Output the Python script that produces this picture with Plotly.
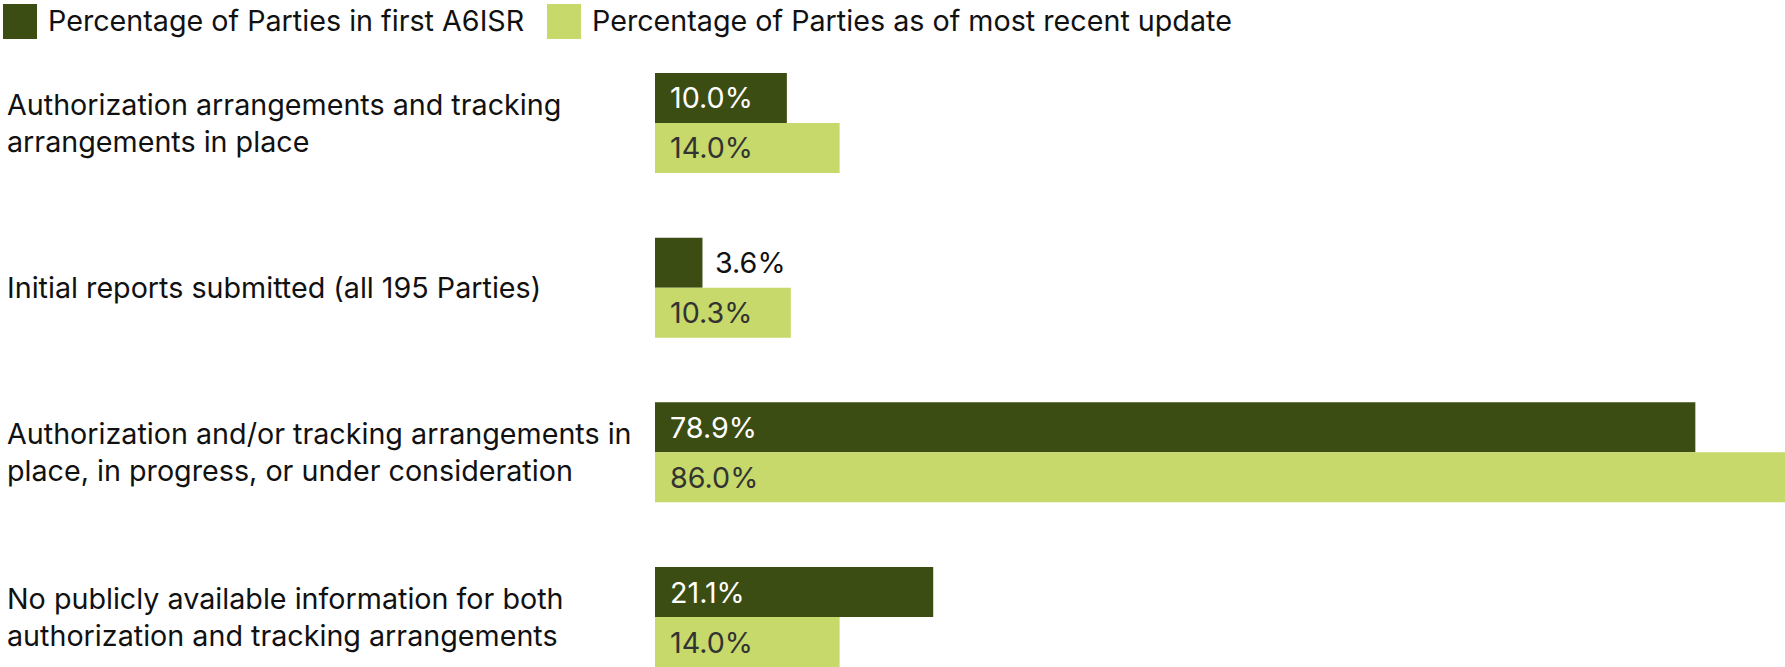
import plotly.graph_objects as go

categories = [
    "Authorization arrangements and tracking<br>arrangements in place",
    "Initial reports submitted (all 195 Parties)",
    "Authorization and/or tracking arrangements in<br>place, in progress, or under consideration",
    "No publicly available information for both<br>authorization and tracking arrangements",
]
series_names = ["Percentage of Parties in first A6ISR", "Percentage of Parties as of most recent update"]
first_a6isr = [10.0, 3.6, 78.9, 21.1]
recent_update = [14.0, 10.3, 86.0, 14.0]

DARK = "#3b4d13"
LIGHT = "#c6d96a"
FONT = "Inter"
FS = 28.7

W, H = 1785, 667
L, T = 655, 73
pos = list(range(len(categories)))
half = 0.1517  # half offset of grouped bars in axis units

fig = go.Figure()
fig.add_trace(go.Bar(y=pos, x=first_a6isr, orientation="h", name=series_names[0],
                     marker=dict(color=DARK, line=dict(width=0)), showlegend=False))
fig.add_trace(go.Bar(y=pos, x=recent_update, orientation="h", name=series_names[1],
                     marker=dict(color=LIGHT, line=dict(width=0)), showlegend=False))

ann = []
for i, cat in enumerate(categories):
    ann.append(dict(x=-L / (W - L), xref="paper", y=i, yref="y", text=cat, showarrow=False,
                    xanchor="left", yanchor="middle", align="left", xshift=5,
                    font=dict(family=FONT, size=FS, color="#111111")))
for vals, off, col_in in [(first_a6isr, -half, "#ffffff"), (recent_update, half, "#333333")]:
    for i, v in enumerate(vals):
        inside = v >= 5
        ann.append(dict(x=0 if inside else v, xref="x", y=i + off, yref="y", text=f"{v:.1f}%",
                        showarrow=False, xanchor="left", yanchor="middle", xshift=13 if inside else 11,
                        font=dict(family=FONT, size=FS, color=col_in if inside else "#111111")))

# custom legend
shapes = []
leg_x = [3, 547]
for k, (nm, col) in enumerate(zip(series_names, [DARK, LIGHT])):
    x0 = (leg_x[k] - L) / (W - L)
    x1 = (leg_x[k] + 34 - L) / (W - L)
    shapes.append(dict(type="rect", xref="paper", yref="paper", x0=x0, x1=x1,
                       y0=1 + (T - 4) / (H - T), y1=1 + (T - 39) / (H - T),
                       fillcolor=col, line=dict(width=0)))
    ann.append(dict(x=x1, xref="paper", y=1 + (T - 21) / (H - T), yref="paper", text=nm,
                    showarrow=False, xanchor="left", yanchor="middle", xshift=9,
                    font=dict(family=FONT, size=FS, color="#111111")))

fig.update_layout(
    width=W, height=H,
    margin=dict(l=L, r=0, t=T, b=0),
    paper_bgcolor="white", plot_bgcolor="white",
    barmode="group", bargap=0.393, bargroupgap=0,
    xaxis=dict(range=[0, 85.7], visible=False, fixedrange=True),
    yaxis=dict(range=[3.303, -0.303], visible=False, fixedrange=True),
    annotations=ann, shapes=shapes,
    font=dict(family=FONT, size=FS),
)

fig.write_html("out.html", config={"displayModeBar": False},
               post_script="document.body.style.margin='0';")
